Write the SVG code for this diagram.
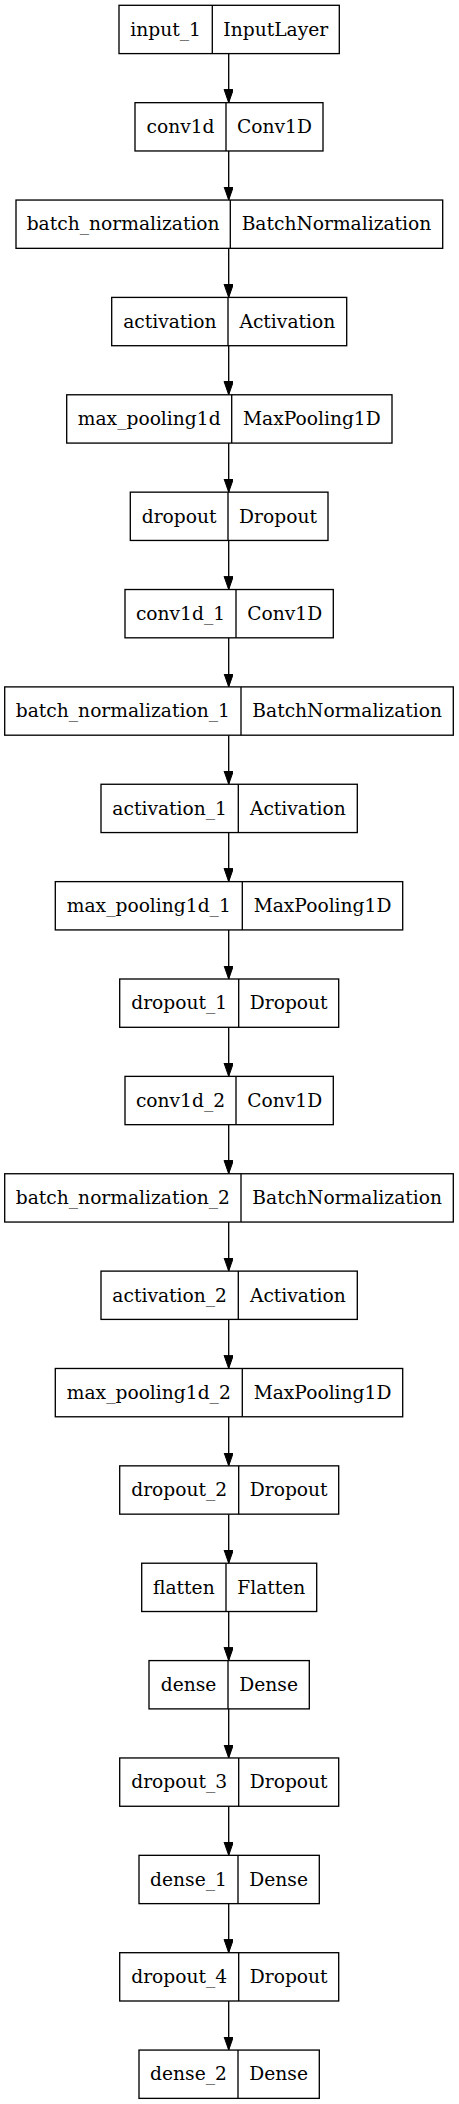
<svg xmlns="http://www.w3.org/2000/svg" width="459" height="2104" viewBox="0 0 459 2104">
<style>
.box{fill:#fff;stroke:#000;stroke-width:1.33}
.div{stroke:#000;stroke-width:1.33}
.t{font-family:"DejaVu Serif","Liberation Serif",serif;font-size:18.67px;fill:#000;text-anchor:middle}
.e{stroke:#000;stroke-width:1.33;fill:none;marker-end:url(#ah)}
</style>
<defs>
<marker id="ah" markerUnits="userSpaceOnUse" markerWidth="14" markerHeight="10" refX="13.3" refY="4.67" orient="auto">
<path d="M0,0 L13.3,4.67 L0,9.33 Z" fill="#000" stroke="#000" stroke-width="1"/>
</marker>
</defs>
<rect width="459" height="2104" fill="#fff"/>
<g id="connectors">
<path class="e" d="M228.7,53.6 V102.67"/>
<path class="e" d="M228.7,150.97 V200.04"/>
<path class="e" d="M228.7,248.34 V297.41"/>
<path class="e" d="M228.7,345.71 V394.78"/>
<path class="e" d="M228.7,443.08 V492.15"/>
<path class="e" d="M228.7,540.45 V589.52"/>
<path class="e" d="M228.7,637.82 V686.89"/>
<path class="e" d="M228.7,735.19 V784.26"/>
<path class="e" d="M228.7,832.56 V881.63"/>
<path class="e" d="M228.7,929.93 V979"/>
<path class="e" d="M228.7,1027.3 V1076.37"/>
<path class="e" d="M228.7,1124.67 V1173.74"/>
<path class="e" d="M228.7,1222.04 V1271.11"/>
<path class="e" d="M228.7,1319.41 V1368.48"/>
<path class="e" d="M228.7,1416.78 V1465.85"/>
<path class="e" d="M228.7,1514.15 V1563.22"/>
<path class="e" d="M228.7,1611.52 V1660.59"/>
<path class="e" d="M228.7,1708.89 V1757.96"/>
<path class="e" d="M228.7,1806.26 V1855.33"/>
<path class="e" d="M228.7,1903.63 V1952.7"/>
<path class="e" d="M228.7,2001 V2050.07"/>
</g>
<g id="n0" transform="translate(0,5.3)"><rect class="box" x="119" y="0" width="220.3" height="48.3"/><line class="div" x1="212.3" y1="0" x2="212.3" y2="48.3"/><text class="t" x="165.65" y="30.4">input_1</text><text class="t" x="275.8" y="30.4">InputLayer</text></g>
<g id="n1" transform="translate(0,102.67)"><rect class="box" x="135" y="0" width="188" height="48.3"/><line class="div" x1="226" y1="0" x2="226" y2="48.3"/><text class="t" x="180.5" y="30.4">conv1d</text><text class="t" x="274.5" y="30.4">Conv1D</text></g>
<g id="n2" transform="translate(0,200.04)"><rect class="box" x="16" y="0" width="426.7" height="48.3"/><line class="div" x1="230.3" y1="0" x2="230.3" y2="48.3"/><text class="t" x="123.15" y="30.4">batch_normalization</text><text class="t" x="336.5" y="30.4">BatchNormalization</text></g>
<g id="n3" transform="translate(0,297.41)"><rect class="box" x="111.7" y="0" width="235" height="48.3"/><line class="div" x1="228" y1="0" x2="228" y2="48.3"/><text class="t" x="169.85" y="30.4">activation</text><text class="t" x="287.35" y="30.4">Activation</text></g>
<g id="n4" transform="translate(0,394.78)"><rect class="box" x="66.7" y="0" width="325.3" height="48.3"/><line class="div" x1="231.7" y1="0" x2="231.7" y2="48.3"/><text class="t" x="149.2" y="30.4">max_pooling1d</text><text class="t" x="311.85" y="30.4">MaxPooling1D</text></g>
<g id="n5" transform="translate(0,492.15)"><rect class="box" x="130.3" y="0" width="197.7" height="48.3"/><line class="div" x1="228" y1="0" x2="228" y2="48.3"/><text class="t" x="179.15" y="30.4">dropout</text><text class="t" x="278" y="30.4">Dropout</text></g>
<g id="n6" transform="translate(0,589.52)"><rect class="box" x="125" y="0" width="208.3" height="48.3"/><line class="div" x1="236" y1="0" x2="236" y2="48.3"/><text class="t" x="180.5" y="30.4">conv1d_1</text><text class="t" x="284.65" y="30.4">Conv1D</text></g>
<g id="n7" transform="translate(0,686.89)"><rect class="box" x="4.7" y="0" width="448.6" height="48.3"/><line class="div" x1="241" y1="0" x2="241" y2="48.3"/><text class="t" x="122.85" y="30.4">batch_normalization_1</text><text class="t" x="347.15" y="30.4">BatchNormalization</text></g>
<g id="n8" transform="translate(0,784.26)"><rect class="box" x="101" y="0" width="256.3" height="48.3"/><line class="div" x1="238.3" y1="0" x2="238.3" y2="48.3"/><text class="t" x="169.65" y="30.4">activation_1</text><text class="t" x="297.8" y="30.4">Activation</text></g>
<g id="n9" transform="translate(0,881.63)"><rect class="box" x="55.3" y="0" width="347.4" height="48.3"/><line class="div" x1="242.3" y1="0" x2="242.3" y2="48.3"/><text class="t" x="148.8" y="30.4">max_pooling1d_1</text><text class="t" x="322.5" y="30.4">MaxPooling1D</text></g>
<g id="n10" transform="translate(0,979)"><rect class="box" x="119.7" y="0" width="219" height="48.3"/><line class="div" x1="238.7" y1="0" x2="238.7" y2="48.3"/><text class="t" x="179.2" y="30.4">dropout_1</text><text class="t" x="288.7" y="30.4">Dropout</text></g>
<g id="n11" transform="translate(0,1076.37)"><rect class="box" x="125" y="0" width="208.3" height="48.3"/><line class="div" x1="236" y1="0" x2="236" y2="48.3"/><text class="t" x="180.5" y="30.4">conv1d_2</text><text class="t" x="284.65" y="30.4">Conv1D</text></g>
<g id="n12" transform="translate(0,1173.74)"><rect class="box" x="4.7" y="0" width="448.6" height="48.3"/><line class="div" x1="241" y1="0" x2="241" y2="48.3"/><text class="t" x="122.85" y="30.4">batch_normalization_2</text><text class="t" x="347.15" y="30.4">BatchNormalization</text></g>
<g id="n13" transform="translate(0,1271.11)"><rect class="box" x="101" y="0" width="256.3" height="48.3"/><line class="div" x1="238.3" y1="0" x2="238.3" y2="48.3"/><text class="t" x="169.65" y="30.4">activation_2</text><text class="t" x="297.8" y="30.4">Activation</text></g>
<g id="n14" transform="translate(0,1368.48)"><rect class="box" x="55.3" y="0" width="347.4" height="48.3"/><line class="div" x1="242.3" y1="0" x2="242.3" y2="48.3"/><text class="t" x="148.8" y="30.4">max_pooling1d_2</text><text class="t" x="322.5" y="30.4">MaxPooling1D</text></g>
<g id="n15" transform="translate(0,1465.85)"><rect class="box" x="119.7" y="0" width="219" height="48.3"/><line class="div" x1="238.7" y1="0" x2="238.7" y2="48.3"/><text class="t" x="179.2" y="30.4">dropout_2</text><text class="t" x="288.7" y="30.4">Dropout</text></g>
<g id="n16" transform="translate(0,1563.22)"><rect class="box" x="141.7" y="0" width="175" height="48.3"/><line class="div" x1="226" y1="0" x2="226" y2="48.3"/><text class="t" x="183.85" y="30.4">flatten</text><text class="t" x="271.35" y="30.4">Flatten</text></g>
<g id="n17" transform="translate(0,1660.59)"><rect class="box" x="149" y="0" width="160.3" height="48.3"/><line class="div" x1="228" y1="0" x2="228" y2="48.3"/><text class="t" x="188.5" y="30.4">dense</text><text class="t" x="268.65" y="30.4">Dense</text></g>
<g id="n18" transform="translate(0,1757.96)"><rect class="box" x="119.7" y="0" width="219" height="48.3"/><line class="div" x1="238.7" y1="0" x2="238.7" y2="48.3"/><text class="t" x="179.2" y="30.4">dropout_3</text><text class="t" x="288.7" y="30.4">Dropout</text></g>
<g id="n19" transform="translate(0,1855.33)"><rect class="box" x="139" y="0" width="180.3" height="48.3"/><line class="div" x1="238" y1="0" x2="238" y2="48.3"/><text class="t" x="188.5" y="30.4">dense_1</text><text class="t" x="278.65" y="30.4">Dense</text></g>
<g id="n20" transform="translate(0,1952.7)"><rect class="box" x="119.7" y="0" width="219" height="48.3"/><line class="div" x1="238.7" y1="0" x2="238.7" y2="48.3"/><text class="t" x="179.2" y="30.4">dropout_4</text><text class="t" x="288.7" y="30.4">Dropout</text></g>
<g id="n21" transform="translate(0,2050.07)"><rect class="box" x="139" y="0" width="180.3" height="48.3"/><line class="div" x1="238" y1="0" x2="238" y2="48.3"/><text class="t" x="188.5" y="30.4">dense_2</text><text class="t" x="278.65" y="30.4">Dense</text></g>
</svg>
